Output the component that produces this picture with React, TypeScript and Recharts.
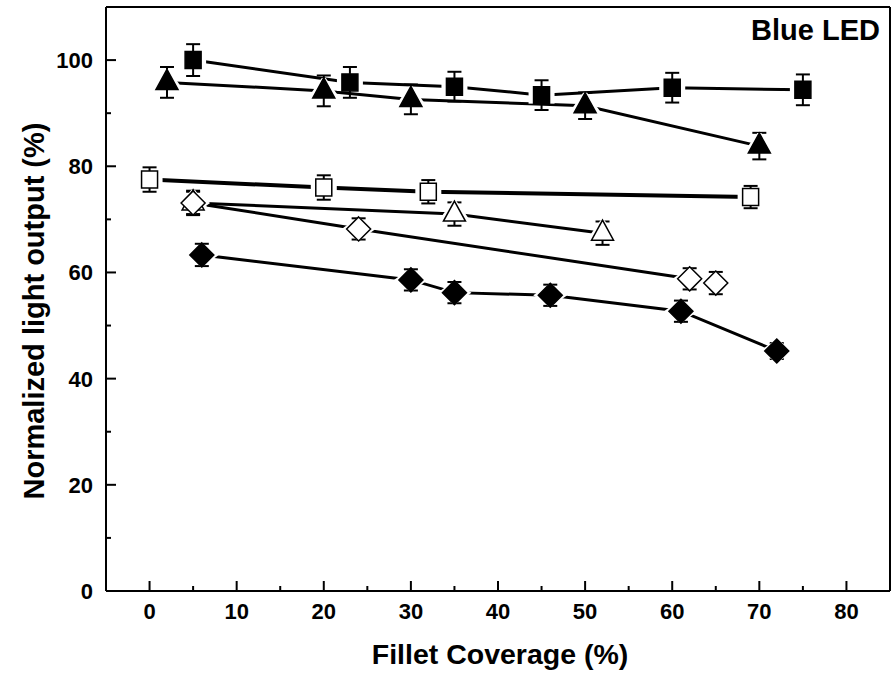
import React from 'react';
import { ComposedChart, Line, XAxis, YAxis, ErrorBar, ReferenceLine } from 'recharts';

// ---- Data ----
const filledSquareX = [5, 23, 35, 45, 60, 75];
const filledSquareY = [100, 95.8, 95.0, 93.4, 94.8, 94.4];
const filledSquareErr = [3.0, 2.9, 2.8, 2.8, 2.8, 2.9];

const filledTriangleX = [2, 20, 30, 50, 70];
const filledTriangleY = [95.8, 94.2, 92.6, 91.4, 83.8];
const filledTriangleErr = [2.9, 2.9, 2.8, 2.5, 2.5];

const openSquareX = [0, 20, 32, 69];
const openSquareY = [77.5, 76.0, 75.2, 74.2];
const openSquareErr = [2.3, 2.3, 2.2, 2.1];

const openTriangleX = [5, 35, 52];
const openTriangleY = [73.1, 71.0, 67.4];
const openTriangleErr = [2.3, 2.2, 2.2];

const openDiamondX = [5, 24, 62, 65];
const openDiamondY = [73.1, 68.2, 58.8, 58.0];
const openDiamondErr = [2.1, 2.0, 2.0, 2.1];

const filledDiamondX = [6, 30, 35, 46, 61, 72];
const filledDiamondY = [63.3, 58.6, 56.2, 55.7, 52.7, 45.2];
const filledDiamondErr = [2.1, 2.0, 2.0, 2.0, 2.0, 1.5];

const xTicks = [0, 5, 10, 15, 20, 25, 30, 35, 40, 45, 50, 55, 60, 65, 70, 75, 80];
const yTicks = [0, 10, 20, 30, 40, 50, 60, 70, 80, 90, 100];

const titleText = 'Blue LED';
const xLabelText = 'Fillet Coverage (%)';
const yLabelText = 'Normalized light output (%)';

type Pt = { x: number; y: number; err: number };
const toPoints = (xs: number[], ys: number[], es: number[]): Pt[] =>
  xs.map((x, i) => ({ x, y: ys[i], err: es[i] }));

type Shape = 'square' | 'triangle' | 'diamond';

const FONT = '"Liberation Sans", Arial, Helvetica, sans-serif';

// g: horizontal growth only (used for the white gap around markers)
function shapePath(shape: Shape, cx: number, cy: number, g: number): string {
  if (shape === 'square') {
    const w = 8 + g;
    const h = 8.5;
    return `M${cx - w},${cy - h}L${cx + w},${cy - h}L${cx + w},${cy + h}L${cx - w},${cy + h}Z`;
  }
  if (shape === 'triangle') {
    const top = cy - 13;
    const bot = cy + 7;
    const hw = 11 + g;
    if (g > 0) {
      return `M${cx - 2},${top}L${cx + 2},${top}L${cx + hw},${bot}L${cx - hw},${bot}Z`;
    }
    return `M${cx},${top}L${cx + hw},${bot}L${cx - hw},${bot}Z`;
  }
  const r = 12;
  return `M${cx},${cy - r}L${cx + r + g},${cy}L${cx},${cy + r}L${cx - r - g},${cy}Z`;
}

const makeHalo = (shape: Shape) => (props: any) => {
  const { cx, cy, index } = props;
  if (cx == null || cy == null) return <g key={`h-${index}`} />;
  return <path key={`h-${index}`} d={shapePath(shape, cx, cy, 5)} fill="#fff" stroke="none" />;
};

const makeMarker = (shape: Shape, filled: boolean) => (props: any) => {
  const { cx, cy, index } = props;
  if (cx == null || cy == null) return <g key={`m-${index}`} />;
  return (
    <path
      key={`m-${index}`}
      d={shapePath(shape, cx, cy, 0)}
      fill={filled ? '#000' : '#fff'}
      stroke="#000"
      strokeWidth={1.5}
      strokeLinejoin="miter"
    />
  );
};

const series = [
  { name: 'fs', data: toPoints(filledSquareX, filledSquareY, filledSquareErr), shape: 'square' as Shape, filled: true, sw: 3 },
  { name: 'ft', data: toPoints(filledTriangleX, filledTriangleY, filledTriangleErr), shape: 'triangle' as Shape, filled: true, sw: 3 },
  { name: 'os', data: toPoints(openSquareX, openSquareY, openSquareErr), shape: 'square' as Shape, filled: false, sw: 4 },
  { name: 'ot', data: toPoints(openTriangleX, openTriangleY, openTriangleErr), shape: 'triangle' as Shape, filled: false, sw: 3 },
  { name: 'od', data: toPoints(openDiamondX, openDiamondY, openDiamondErr), shape: 'diamond' as Shape, filled: false, sw: 3 },
  { name: 'fd', data: toPoints(filledDiamondX, filledDiamondY, filledDiamondErr), shape: 'diamond' as Shape, filled: true, sw: 3 },
];

const XTick = (props: any) => {
  const { x, y, payload } = props;
  const v = payload.value as number;
  const major = v % 10 === 0;
  return (
    <g>
      <line x1={x} x2={x} y1={y} y2={y - (major ? 10 : 5)} stroke="#000" strokeWidth={2} />
      {major && (
        <text x={x} y={y + 28} textAnchor="middle" fontFamily={FONT} fontWeight="bold" fontSize={22} fill="#000">
          {v}
        </text>
      )}
    </g>
  );
};

const YTick = (props: any) => {
  const { x, y, payload } = props;
  const v = payload.value as number;
  const major = v % 20 === 0;
  return (
    <g>
      <line x1={x} x2={x + (major ? 10 : 5)} y1={y} y2={y} stroke="#000" strokeWidth={2} />
      {major && (
        <text x={x - 13} y={y + 8} textAnchor="end" fontFamily={FONT} fontWeight="bold" fontSize={22} fill="#000">
          {v}
        </text>
      )}
    </g>
  );
};

export default function App() {
  return (
    <div style={{ position: 'absolute', left: 0, top: 0, width: 891, height: 677, background: '#fff' }}>
      <ComposedChart width={891} height={677} margin={{ top: 7, right: 1, left: 0, bottom: 0 }}>
        <XAxis
          type="number"
          dataKey="x"
          domain={[-5, 85]}
          ticks={xTicks}
          allowDataOverflow
          height={86}
          tickSize={0}
          tickMargin={0}
          tickLine={false}
          axisLine={{ stroke: '#000', strokeWidth: 2 }}
          tick={<XTick />}
          interval={0}
        />
        <YAxis
          type="number"
          dataKey="y"
          domain={[0, 110]}
          ticks={yTicks}
          allowDataOverflow
          width={106}
          tickSize={0}
          tickMargin={0}
          tickLine={false}
          axisLine={{ stroke: '#000', strokeWidth: 2 }}
          tick={<YTick />}
          interval={0}
        />
        <ReferenceLine y={110} stroke="#000" strokeWidth={2} />
        <ReferenceLine x={85} stroke="#000" strokeWidth={2} />
        {series.map((s) => (
          <Line
            key={`line-${s.name}`}
            data={s.data}
            dataKey="y"
            type="linear"
            stroke="#000"
            strokeWidth={s.sw}
            dot={makeHalo(s.shape)}
            activeDot={false}
            isAnimationActive={false}
          />
        ))}
        {series.map((s) => (
          <Line
            key={`mark-${s.name}`}
            data={s.data}
            dataKey="y"
            type="linear"
            stroke="none"
            dot={makeMarker(s.shape, s.filled)}
            activeDot={false}
            isAnimationActive={false}
          >
            <ErrorBar dataKey="err" direction="y" width={7} stroke="#000" strokeWidth={2} />
          </Line>
        ))}
        <text x={880} y={40} textAnchor="end" fontFamily={FONT} fontWeight="bold" fontSize={29} fill="#000">
          {titleText}
        </text>
        <text x={500} y={664} textAnchor="middle" fontFamily={FONT} fontWeight="bold" fontSize={28.5} fill="#000">
          {xLabelText}
        </text>
        <text
          x={44}
          y={311}
          transform="rotate(-90, 44, 311)"
          textAnchor="middle"
          fontFamily={FONT}
          fontWeight="bold"
          fontSize={29}
          fill="#000"
        >
          {yLabelText}
        </text>
      </ComposedChart>
    </div>
  );
}
